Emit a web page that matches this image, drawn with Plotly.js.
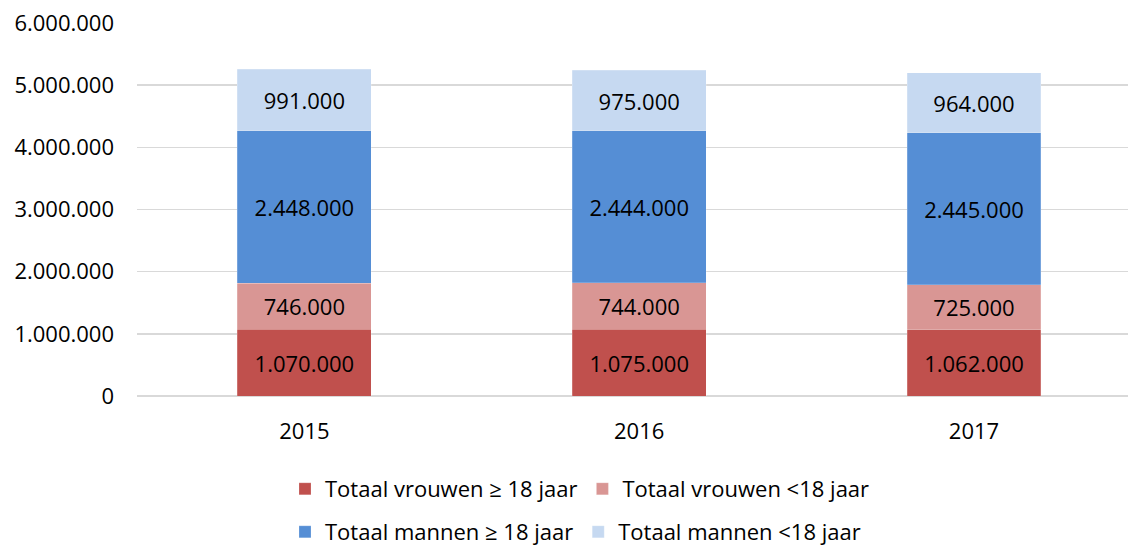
<!DOCTYPE html>
<html>
<head>
<meta charset="utf-8">
<script src="https://cdn.plot.ly/plotly-3.0.1.min.js"></script>
<style>html,body{margin:0;padding:0;background:#fff}#chart{width:1128px;height:546px}</style>
</head>
<body>
<div id="chart"></div>
<script>
const years = ['2015', '2016', '2017'];
const vrouwenVolw = [1070000, 1075000, 1062000];
const vrouwenKind = [746000, 744000, 725000];
const mannenVolw = [2448000, 2444000, 2445000];
const mannenKind = [991000, 975000, 964000];
const seriesNames = ['Totaal vrouwen ≥ 18 jaar', 'Totaal vrouwen <18 jaar', 'Totaal mannen ≥ 18 jaar', 'Totaal mannen <18 jaar'];
const colors = ['#C0504D', '#D99694', '#558ED5', '#C6D9F1'];
const yTicks = [0, 1000000, 2000000, 3000000, 4000000, 5000000, 6000000];

const values = [vrouwenVolw, vrouwenKind, mannenVolw, mannenKind];
const legends = ['legend', 'legend', 'legend2', 'legend2'];
const font = 'Open Sans, Noto Sans, sans-serif';

const traces = values.map((v, i) => ({
  type: 'bar',
  x: years,
  y: v,
  name: seriesNames[i],
  legend: legends[i],
  marker: {color: colors[i], line: {color: 'rgba(255,255,255,0.4)', width: 0.5}},
  width: 0.4,
  texttemplate: '%{y:,d}',
  textposition: 'inside',
  insidetextanchor: 'middle',
  constraintext: 'none',
  textfont: {color: '#000', size: 22, family: font},
  hoverinfo: 'skip'
}));

const layout = {
  width: 1128, height: 546,
  margin: {l: 137, r: 0, t: 23, b: 150},
  barmode: 'stack',
  separators: ',.',
  paper_bgcolor: '#fff',
  plot_bgcolor: '#fff',
  font: {family: font, size: 22, color: '#000'},
  xaxis: {
    type: 'category',
    range: [-0.5, 2.46],
    showgrid: false,
    showline: false,
    ticks: '',
    ticklabelstandoff: 20,
    tickfont: {size: 22, color: '#000'}
  },
  yaxis: {
    range: [0, 6000000],
    tickvals: yTicks,
    tickformat: ',d',
    gridcolor: '#D9D9D9',
    gridwidth: 1.5,
    zeroline: true,
    zerolinecolor: '#D9D9D9',
    zerolinewidth: 1.5,
    showline: false,
    ticks: '',
    ticklabelstandoff: 22,
    tickfont: {size: 22, color: '#000'}
  },
  legend: {
    orientation: 'h', x: 285 / 1128, xanchor: 'left', xref: 'container',
    y: (546 - 489) / 546, yref: 'container', yanchor: 'middle',
    font: {size: 22}, traceorder: 'normal', itemclick: false
  },
  legend2: {
    orientation: 'h', x: 285 / 1128, xanchor: 'left', xref: 'container',
    y: (546 - 532) / 546, yref: 'container', yanchor: 'middle',
    font: {size: 22}, traceorder: 'normal', itemclick: false
  },
  showlegend: true
};

Plotly.newPlot('chart', traces, layout, {displayModeBar: false, staticPlot: true});
</script>
</body>
</html>
